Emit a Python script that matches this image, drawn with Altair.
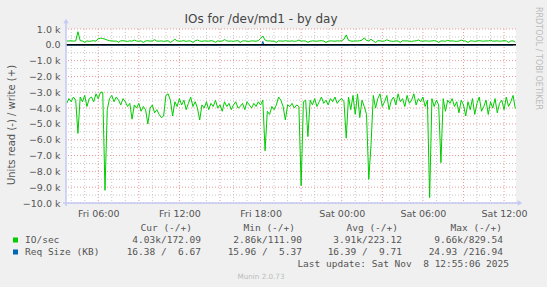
import altair as alt
import pandas as pd

# ---------------- data ----------------
START = "2025-11-07 03:40"          # first 10-minute sample
# IO/sec read (shown negative), in thousands
read_k = [
    3.7, 3.4, 3.6, 3.3, 3.5, 5.6, 3.3, 3.6, 3.2, 3.9,
    3.4, 3.3, 3.6, 3.1, 3.4, 3.0, 3.0, 9.2, 4.1, 3.4,
    3.2, 3.6, 3.3, 3.5, 3.8, 3.4, 3.6, 3.9, 3.7, 4.7,
    3.8, 4.0, 3.7, 4.2, 3.9, 4.1, 5.0, 4.0, 3.8, 4.3,
    4.1, 4.4, 4.6, 4.5, 3.2, 3.1, 3.5, 4.5, 3.6, 3.9,
    3.4, 3.8, 3.5, 4.1, 3.7, 3.3, 3.9, 3.6, 4.0, 4.75,
    3.8, 4.0, 3.6, 4.1, 3.7, 3.9, 3.5, 4.0, 3.8, 4.2,
    3.6, 3.9, 3.7, 4.1, 3.8, 3.6, 4.0, 3.9, 3.7, 4.1,
    3.6, 3.8, 4.0, 3.7, 3.9, 3.6, 3.8, 3.5, 6.7, 4.2,
    4.4, 3.9, 4.1, 3.8, 3.3, 3.5, 3.9, 4.75, 3.8, 3.9,
    3.7, 4.0, 3.8, 3.9, 8.9, 3.6, 3.5, 5.8, 3.5, 3.8,
    3.4, 3.9, 3.6, 3.3, 3.7, 3.5, 3.8, 3.4, 3.6, 3.3,
    3.7, 3.5, 3.4, 3.6, 5.9, 3.3, 4.1, 3.2, 4.4, 3.1,
    4.6, 3.5, 3.9, 4.4, 8.5, 6.3, 3.2, 4.0, 3.4, 3.1,
    3.9, 3.6, 3.2, 4.1, 3.5, 3.3, 3.8, 3.1, 3.6, 3.4,
    3.9, 3.2, 3.7, 3.5, 3.1, 3.8, 3.4, 3.6, 3.3, 3.9,
    3.5, 9.66, 3.4, 3.9, 3.5, 3.8, 7.45, 3.4, 4.2, 3.5,
    3.7, 3.4, 3.9, 3.6, 4.3, 3.5, 3.8, 4.5, 3.6, 4.1,
    3.4, 4.4, 3.7, 3.3, 4.2, 3.9, 3.5, 4.4, 3.6, 4.0,
    3.4, 4.3, 3.7, 3.5, 4.1, 3.3, 3.9, 3.6, 3.2, 4.03,
]
# IO/sec write (positive)
write_v = [
    250, 240, 260, 230, 250, 829, 260, 240, 150, 250,
    220, 240, 260, 230, 380, 420, 400, 360, 300, 260,
    250, 230, 240, 160, 250, 260, 240, 220, 250, 230,
    300, 240, 230, 250, 150, 240, 260, 230, 250, 320,
    240, 230, 250, 220, 240, 260, 150, 240, 350, 250,
    230, 240, 260, 220, 250, 240, 150, 260, 300, 240,
    220, 250, 240, 230, 260, 240, 160, 250, 230, 240,
    330, 250, 230, 240, 220, 250, 260, 150, 240, 250,
    230, 220, 250, 240, 230, 260, 400, 560, 300, 240,
    250, 230, 240, 150, 250, 240, 230, 260, 240, 230,
    250, 220, 240, 300, 230, 250, 240, 160, 220, 250,
    240, 230, 250, 260, 240, 150, 230, 250, 240, 230,
    250, 240, 260, 350, 625, 280, 240, 230, 250, 240,
    260, 300, 440, 270, 250, 350, 240, 150, 260, 250,
    230, 240, 320, 250, 230, 220, 250, 240, 150, 260,
    240, 250, 230, 220, 240, 250, 300, 240, 230, 250,
    240, 230, 250, 260, 240, 150, 250, 240, 230, 280,
    240, 250, 230, 220, 240, 300, 250, 240, 150, 250,
    240, 220, 250, 260, 240, 230, 250, 240, 290, 230,
    240, 250, 230, 240, 260, 250, 150, 240, 250, 172,
]
REQ_START = "2025-11-07 03:40"      # first 30-minute sample
req_write = [
    7.2, 9.1, 8.4, 10.5, 6.9, 8.8, 12.3, 9.5, 7.7, 8.1,
    11.2, 9.8, 8.6, 7.4, 10.1, 9.3, 8.0, 12.8, 9.6, 7.9,
    8.7, 10.4, 9.0, 8.3, 11.6, 9.2, 7.5, 8.9, 10.0, 216.94,
    8.2, 12.0, 9.7, 7.6, 8.5, 10.7, 9.1, 8.8, 11.0, 9.9,
    7.8, 8.4, 10.2, 9.5, 6.1, 5.4, 7.3, 8.6, 9.0, 10.3,
    8.1, 7.7, 11.4, 9.2, 8.3, 10.6, 9.6, 7.4, 8.9, 10.9,
    9.3, 8.0, 11.8, 9.7, 7.2, 6.9, 6.67,
]
req_read = [
    16.4, 16.2, 16.5, 16.3, 16.4, 16.1, 16.6, 16.3, 16.4, 16.2,
    16.5, 16.4, 16.3, 16.0, 16.4, 16.6, 16.2, 16.4, 16.3, 16.5,
    16.4, 16.2, 24.9, 16.3, 16.4, 16.5, 16.1, 16.3, 16.4, 16.2,
    16.5, 16.3, 16.4, 16.2, 16.6, 16.4, 16.3, 16.5, 16.2, 16.4,
    16.3, 16.5, 16.1, 16.4, 16.2, 16.3, 16.5, 16.4, 16.2, 16.3,
    16.6, 16.4, 16.3, 16.2, 16.5, 16.4, 16.3, 16.1, 16.4, 16.5,
    16.2, 16.4, 16.3, 16.5, 16.2, 16.4, 16.38,
]
req_extra_times = ["2025-11-07 18:05", "2025-11-07 18:15"]
req_extra_write = [9.0, 9.0]

x_label_times = ["2025-11-07 06:00", "2025-11-07 12:00", "2025-11-07 18:00",
                 "2025-11-08 00:00", "2025-11-08 06:00", "2025-11-08 12:00"]
y_tick_values = [-10000, -9000, -8000, -7000, -6000, -5000, -4000, -3000,
                 -2000, -1000, 0, 1000]
y_minor_values = [-9500, -8500, -7500, -6500, -5500, -4500, -3500, -2500,
                  -1500, -500, 500]

title_text = "IOs for /dev/md1 - by day"
y_title_text = "Units read (-) / write (+)"
side_text = "RRDTOOL / TOBI OETIKER"
legend_headers = ["Cur\u00a0(-/+)", "Min\u00a0(-/+)", "Avg\u00a0(-/+)", "Max\u00a0(-/+)"]
legend_names = ["IO/sec", "Req\u00a0Size\u00a0(KB)"]
legend_values = [
    ["4.03k/172.09", "2.86k/111.90", "3.91k/223.12", "9.66k/829.54"],
    ["16.38\u00a0/\u00a0\u00a06.67", "15.96\u00a0/\u00a0\u00a05.37",
     "16.39\u00a0/\u00a0\u00a09.71", "24.93\u00a0/216.94"],
]
legend_colors = ["#00CC00", "#0066B3"]
last_update = "Last\u00a0update:\u00a0Sat\u00a0Nov\u00a0\u00a08\u00a012:55:06\u00a02025"
footer_text = "Munin 2.0.73"

# ---------------- tables ----------------
t_io = pd.date_range(START, periods=len(read_k), freq="10min")
df_io = pd.concat([
    pd.DataFrame({"time": t_io, "v": [-k * 1000 for k in read_k], "s": "read"}),
    pd.DataFrame({"time": t_io[:len(write_v)], "v": write_v[:len(t_io)], "s": "write"}),
])
t_req = pd.date_range(REQ_START, periods=len(req_write), freq="30min")
df_rw = pd.concat([
    pd.DataFrame({"time": t_req, "v": req_write}),
    pd.DataFrame({"time": pd.to_datetime(req_extra_times), "v": req_extra_write}),
]).sort_values("time")
df_rw["s"] = "write"
t_rr = pd.date_range(REQ_START, periods=len(req_read), freq="30min")
df_rr = pd.DataFrame({"time": t_rr, "v": [-r for r in req_read], "s": "read"})
df_req = pd.concat([df_rw, df_rr])

hours = pd.date_range("2025-11-07 04:00", "2025-11-08 12:00", freq="h")
df_vmaj = pd.DataFrame({"time": [h for h in hours if h.hour % 3 == 0]})
df_vmin = pd.DataFrame({"time": [h for h in hours if h.hour % 3 != 0]})
df_hmaj = pd.DataFrame({"v": y_tick_values})
df_hmin = pd.DataFrame({"v": y_minor_values})
df_zero = pd.DataFrame({"v": [0]})

# ---------------- layout ----------------
W, H = 450, 174
PL, PT = 66, 29
LABEL_FONT = "DejaVu Sans"
MONO = "DejaVu Sans Mono"
TXT = "#555555"


def dt(s):
    ts = pd.Timestamp(s)
    return alt.DateTime(year=ts.year, month=ts.month, date=ts.day,
                        hours=ts.hour, minutes=ts.minute)


x_scale = alt.Scale(domain=[dt("2025-11-07 03:37"), dt("2025-11-08 12:53")])
y_scale = alt.Scale(domain=[-10000, 1000], nice=False, zero=False)
x_axis = alt.Axis(values=[dt(s) for s in x_label_times], format="%a %H:%M",
                  title=None, domain=False, ticks=False, grid=False,
                  labelFont=LABEL_FONT, labelFontSize=9.5, labelColor=TXT,
                  labelPadding=5, labelFlush=False, labelOverlap=False)
y_axis = alt.Axis(values=y_tick_values,
                  labelExpr="datum.value == 0 ? '0.0' : format(datum.value / 1000, '.1f') + ' k'",
                  title=None, domain=False, ticks=False, grid=False,
                  labelFont=LABEL_FONT, labelFontSize=9.5, labelColor=TXT,
                  labelPadding=6, labelOverlap=False)

X = alt.X("time:T", scale=x_scale, axis=x_axis)
Y = alt.Y("v:Q", scale=y_scale, axis=y_axis)

vmin = alt.Chart(df_vmin).mark_rule(color="#C8C8C8", strokeDash=[1, 2], strokeWidth=1).encode(x=X)
vmaj = alt.Chart(df_vmaj).mark_rule(color="#E89A9A", strokeDash=[1, 2], strokeWidth=1).encode(x=X)
hmin = alt.Chart(df_hmin).mark_rule(color="#C8C8C8", strokeDash=[1, 2], strokeWidth=1).encode(y=Y)
hmaj = alt.Chart(df_hmaj).mark_rule(color="#E89A9A", strokeDash=[1, 2], strokeWidth=1).encode(y=Y)

io_line = alt.Chart(df_io).mark_line(color="#00CC00", strokeWidth=1).encode(x=X, y=Y, detail="s:N")
req_line = alt.Chart(df_req).mark_line(color="#0066B3", strokeWidth=1).encode(x=X, y=Y, detail="s:N")
zero = alt.Chart(df_zero).mark_rule(color="#000000", strokeWidth=1.5).encode(y=Y)

AXC = "#C4C8F4"
one = pd.DataFrame({"t": [""]})
yaxis_line = alt.Chart(one).mark_rule(color=AXC, strokeWidth=1.5).encode(
    x=alt.value(0), y=alt.value(-6), y2=alt.value(H + 3))
xaxis_line = alt.Chart(one).mark_rule(color=AXC, strokeWidth=1.5).encode(
    x=alt.value(-3), x2=alt.value(W + 2), y=alt.value(H))
up_arrow = alt.Chart(one).mark_point(shape="triangle-up", filled=True, color=AXC, size=28, opacity=1).encode(
    x=alt.value(0), y=alt.value(-8))
right_arrow = alt.Chart(one).mark_point(shape="triangle-right", filled=True, color=AXC, size=28, opacity=1).encode(
    x=alt.value(W + 4), y=alt.value(H))


def label(text, px, py, size=9.5, font=MONO, color=TXT, align="left", angle=0, baseline="alphabetic"):
    return alt.Chart(pd.DataFrame({"t": [text]})).mark_text(
        align=align, baseline=baseline, font=font, fontSize=size, color=color, angle=angle
    ).encode(x=alt.value(px - PL), y=alt.value(py - PT), text="t:N")


def swatch(color, px, py):
    return alt.Chart(one).mark_rect(color=color).encode(
        x=alt.value(px - PL), x2=alt.value(px - PL + 5), y=alt.value(py - PT), y2=alt.value(py - PT + 5))


texts = [
    label(title_text, 261, 23, size=12, font=LABEL_FONT, color="#444444", align="center"),
    label(y_title_text, 15, 125, size=10, font=LABEL_FONT, color=TXT, align="center", angle=270),
    label(side_text, 538, 7, size=8, font=LABEL_FONT, color="#BBBBBB", align="left", angle=90, baseline="middle"),
    label(footer_text, 261, 279, size=7.2, font=LABEL_FONT, color="#BBBBBB", align="center"),
    label(last_update, 509, 267, align="right"),
]
header_right = [192, 295, 398, 502]
value_right = [201, 302, 402, 503]
for h, xr in zip(legend_headers, header_right):
    texts.append(label(h, xr, 231, align="right"))
row_y = [243, 255]
for r, (name, vals, col) in enumerate(zip(legend_names, legend_values, legend_colors)):
    texts.append(swatch(col, 13, row_y[r] - 5.5))
    texts.append(label(name, 25, row_y[r]))
    for v, xr in zip(vals, value_right):
        texts.append(label(v, xr, row_y[r], align="right"))

chart = alt.layer(
    vmin, vmaj, hmin, hmaj, io_line, req_line, zero,
    yaxis_line, xaxis_line, up_arrow, right_arrow, *texts
).properties(
    width=W, height=H,
    background="#F0F0F0",
    padding={"left": PL, "top": PT, "right": 547 - PL - W, "bottom": 287 - PT - H},
    autosize=alt.AutoSizeParams(type="none"),
).configure_view(fill="white", stroke=None)

chart.save("out.html", embed_options={"renderer": "svg", "actions": False})
